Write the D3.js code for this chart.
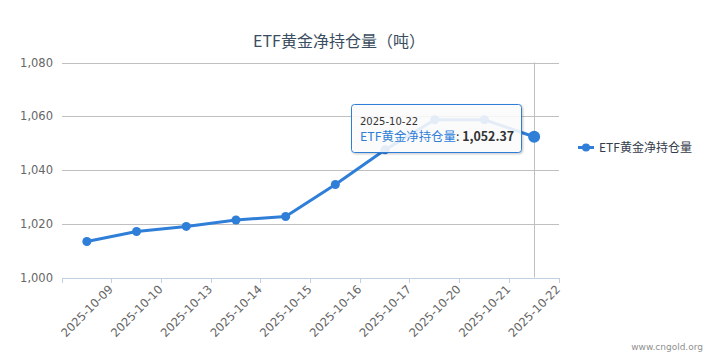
<!DOCTYPE html>
<html><head><meta charset="utf-8">
<script src="https://cdn.jsdelivr.net/npm/d3@7/dist/d3.min.js"></script>
<style>
html,body{margin:0;padding:0;background:#fff;}
svg{display:block;font-family:"DejaVu Sans","Noto Sans CJK SC",sans-serif;}
</style></head>
<body>
<svg id="chart" width="717" height="357"></svg>
<script>
const categories = ["2025-10-09","2025-10-10","2025-10-13","2025-10-14","2025-10-15","2025-10-16","2025-10-17","2025-10-20","2025-10-21","2025-10-22"];
const values = [1013.4, 1017.1, 1019.0, 1021.4, 1022.7, 1034.6, 1047.5, 1058.7, 1058.7, 1052.37];
const yTicks = [1000, 1020, 1040, 1060, 1080];
const seriesName = "ETF黄金净持仓量";
const titleText = "ETF黄金净持仓量（吨）";
const hoverIndex = 9;

const svg = d3.select("#chart");
const pL = 62, pR = 559, pT = 62.5, pB = 277.5;
const blue = "#2f7ed8";
const cjk = "'Noto Sans CJK SC','DejaVu Sans',sans-serif";

const x = d3.scaleBand().domain(categories).range([pL, pR]).padding(0);
const y = d3.scaleLinear().domain([1000, 1080]).range([pB, pT]);
const cx = d => x(d) + x.bandwidth() / 2;

// gridlines + y labels
const yAxis = d3.axisLeft(y).tickValues(yTicks).tickFormat(d3.format(",")).tickSize(-(pR - pL)).tickPadding(9);
const gy = svg.append("g").attr("transform", `translate(${pL},0)`).call(yAxis);
gy.select(".domain").remove();
gy.selectAll(".tick line").attr("stroke", "#c0c0c0").attr("shape-rendering", "crispEdges");
gy.selectAll(".tick text").attr("fill", "#666").attr("font-size", 11.5).attr("font-family", "DejaVu Sans, sans-serif");

// x axis
const xAxis = d3.axisBottom(x).tickSize(5).tickSizeOuter(0).tickFormat("");
const gx = svg.append("g").attr("transform", `translate(0,${pB})`).call(xAxis);
gx.select(".domain").attr("stroke", "#c0d0e0").attr("shape-rendering", "crispEdges");
gx.selectAll(".tick").attr("transform", d => `translate(${x(d) + x.bandwidth()},0)`);
gx.selectAll(".tick line").attr("stroke", "#c0d0e0").attr("shape-rendering", "crispEdges");
gx.append("line").attr("x1", pL).attr("x2", pL).attr("y1", 0).attr("y2", 5)
  .attr("stroke", "#c0d0e0").attr("shape-rendering", "crispEdges");
gx.selectAll(".tick").append("text")
  .attr("fill", "#666").attr("font-size", 11.6).attr("font-family", "DejaVu Sans, sans-serif")
  .attr("text-anchor", "end")
  .attr("transform", "translate(2,12.5) rotate(-45)")
  .text(d => d);

// crosshair
svg.append("line")
  .attr("x1", Math.round(cx(categories[hoverIndex])) + 0.5).attr("x2", Math.round(cx(categories[hoverIndex])) + 0.5)
  .attr("y1", pT).attr("y2", pB)
  .attr("stroke", "#c0c0c0").attr("stroke-width", 1);

// line
const line = d3.line().x((d, i) => cx(categories[i])).y(d => y(d));
svg.append("path").datum(values).attr("d", line)
  .attr("fill", "none").attr("stroke", blue).attr("stroke-width", 3)
  .attr("stroke-linejoin", "round").attr("stroke-linecap", "round");
svg.selectAll("circle.pt").data(values).enter().append("circle")
  .attr("class", "pt")
  .attr("cx", (d, i) => cx(categories[i])).attr("cy", d => y(d))
  .attr("r", (d, i) => i === hoverIndex ? 6 : 4.5)
  .attr("fill", blue);

// title
svg.append("text").attr("x", 339).attr("y", 47).attr("text-anchor", "middle")
  .attr("font-size", 16).attr("fill", "#3b4d60").attr("font-family", cjk).text(titleText);

// legend
const lg = svg.append("g").attr("transform", "translate(578,147.5)");
lg.append("line").attr("x1", 0).attr("x2", 16).attr("y1", 0).attr("y2", 0).attr("stroke", blue).attr("stroke-width", 3);
lg.append("circle").attr("cx", 8).attr("cy", 0).attr("r", 4).attr("fill", blue);
lg.append("text").attr("x", 21).attr("y", 4.5).attr("font-size", 12).attr("fill", "#333c4a")
  .attr("font-family", cjk).text(seriesName);

// tooltip
const defs = svg.append("defs");
const f = defs.append("filter").attr("id", "sh").attr("x", "-10%").attr("y", "-10%").attr("width", "130%").attr("height", "140%");
f.append("feDropShadow").attr("dx", 1).attr("dy", 1).attr("stdDeviation", 1.2).attr("flood-color", "#000").attr("flood-opacity", 0.25);
const tt = svg.append("g").attr("transform", "translate(351.5,104.5)");
tt.append("rect").attr("width", 170).attr("height", 48).attr("rx", 3)
  .attr("fill", "#fff").attr("fill-opacity", 0.85).attr("stroke", blue).attr("stroke-width", 1)
  .attr("filter", "url(#sh)");
tt.append("text").attr("x", 8.5).attr("y", 20.5).attr("font-size", 10).attr("fill", "#333")
  .attr("font-family", "DejaVu Sans, sans-serif").text(categories[hoverIndex]);
const t2 = tt.append("text").attr("x", 8.5).attr("y", 36.5).attr("font-size", 12.4).attr("font-family", cjk);
t2.append("tspan").attr("fill", blue).text(seriesName);
t2.append("tspan").attr("fill", "#333").text(": ");
t2.append("tspan").attr("fill", "#333").attr("font-weight", "bold").text(d3.format(",.2f")(values[hoverIndex]));

// credit
svg.append("text").attr("x", 703).attr("y", 350).attr("text-anchor", "end")
  .attr("font-size", 9).attr("fill", "#909090").attr("font-family", "DejaVu Sans, sans-serif").text("www.cngold.org");
</script>
</body></html>
